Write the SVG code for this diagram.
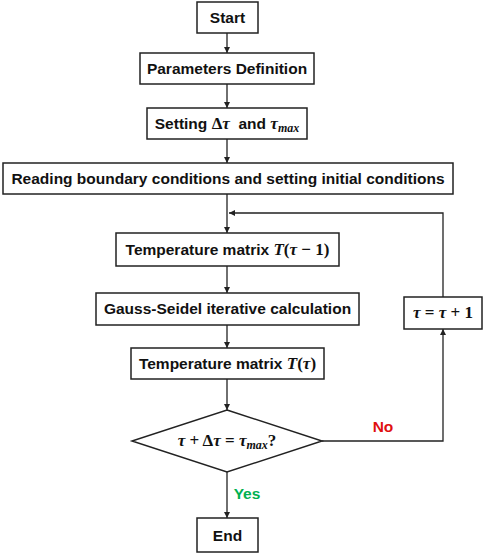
<svg xmlns="http://www.w3.org/2000/svg" width="484" height="554" viewBox="0 0 484 554">
<style>
.box{fill:#fff;stroke:#222;stroke-width:1.5}
.t{font-family:"Liberation Sans",Arial,sans-serif;font-weight:bold;font-size:15.5px;fill:#111;text-anchor:middle}
.m{font-family:"Liberation Serif","DejaVu Serif",serif;font-style:italic;font-weight:bold;font-size:17px}
.n{font-family:"Liberation Serif","DejaVu Serif",serif;font-style:normal;font-weight:bold;font-size:17px}
.s{font-family:"Liberation Serif","DejaVu Serif",serif;font-style:italic;font-weight:bold;font-size:12px}
.c{fill:none;stroke:#222;stroke-width:1.3}
</style>
<defs>
<marker id="a" markerWidth="8" markerHeight="8" refX="6" refY="3" orient="auto" markerUnits="userSpaceOnUse">
<path d="M0,0 L6,3 L0,6 Z" fill="#222"/>
</marker>
</defs>
<g id="connectors">
<line class="c" x1="227" y1="33" x2="227" y2="53" marker-end="url(#a)"/>
<line class="c" x1="227" y1="84" x2="227" y2="108" marker-end="url(#a)"/>
<line class="c" x1="227" y1="139" x2="227" y2="163" marker-end="url(#a)"/>
<line class="c" x1="227" y1="194" x2="227" y2="233" marker-end="url(#a)"/>
<polyline class="c" points="443,297 443,213 229,213" marker-end="url(#a)"/>
<line class="c" x1="227" y1="266" x2="227" y2="293" marker-end="url(#a)"/>
<line class="c" x1="227" y1="325" x2="227" y2="348" marker-end="url(#a)"/>
<line class="c" x1="227" y1="379" x2="227" y2="410" marker-end="url(#a)"/>
<polyline class="c" points="322,441 443,441 443,329" marker-end="url(#a)"/>
<line class="c" x1="227" y1="472" x2="227" y2="518" marker-end="url(#a)"/>
<text class="t" x="383" y="432" style="fill:#e01010">No</text>
<text class="t" x="247" y="499" style="fill:#00b050">Yes</text>
</g>
<g id="start"><rect class="box" x="197" y="2" width="61" height="31"/><text class="t" x="227.5" y="23">Start</text></g>
<g id="params"><rect class="box" x="140" y="53" width="174" height="31"/><text class="t" x="227" y="74">Parameters Definition</text></g>
<g id="setting"><rect class="box" x="147" y="108" width="160" height="31"/><text class="t" x="227" y="129" xml:space="preserve">Setting <tspan class="n">Δ</tspan><tspan class="m">τ</tspan>  and <tspan class="m">τ</tspan><tspan class="s" dy="3">max</tspan></text></g>
<g id="reading"><rect class="box" x="3" y="163" width="450" height="31"/><text class="t" x="228" y="184">Reading boundary conditions and setting initial conditions</text></g>
<g id="tm1"><rect class="box" x="116" y="233" width="223" height="33"/><text class="t" x="227.5" y="255">Temperature matrix <tspan class="m">T</tspan><tspan class="n">(</tspan><tspan class="m">τ</tspan><tspan class="n"> − 1)</tspan></text></g>
<g id="gauss"><rect class="box" x="96" y="293" width="263" height="32"/><text class="t" x="227.5" y="314">Gauss-Seidel iterative calculation</text></g>
<g id="tau"><rect class="box" x="404" y="297" width="78" height="32"/><text class="t" x="443" y="318"><tspan class="m">τ</tspan><tspan class="n"> = </tspan><tspan class="m">τ</tspan><tspan class="n"> + 1</tspan></text></g>
<g id="tm"><rect class="box" x="131" y="348" width="193" height="31"/><text class="t" x="227.5" y="369">Temperature matrix <tspan class="m">T</tspan><tspan class="n">(</tspan><tspan class="m">τ</tspan><tspan class="n">)</tspan></text></g>
<g id="decision"><polygon class="box" points="227,410 322,441 227,472 132,441"/><text class="t" x="227" y="446"><tspan class="m">τ</tspan><tspan class="n"> + Δ</tspan><tspan class="m">τ</tspan><tspan class="n"> = </tspan><tspan class="m">τ</tspan><tspan class="s" dy="3">max</tspan><tspan class="n" dy="-3">?</tspan></text></g>
<g id="end"><rect class="box" x="197" y="518" width="61" height="34"/><text class="t" x="227.5" y="541">End</text></g>
</svg>
